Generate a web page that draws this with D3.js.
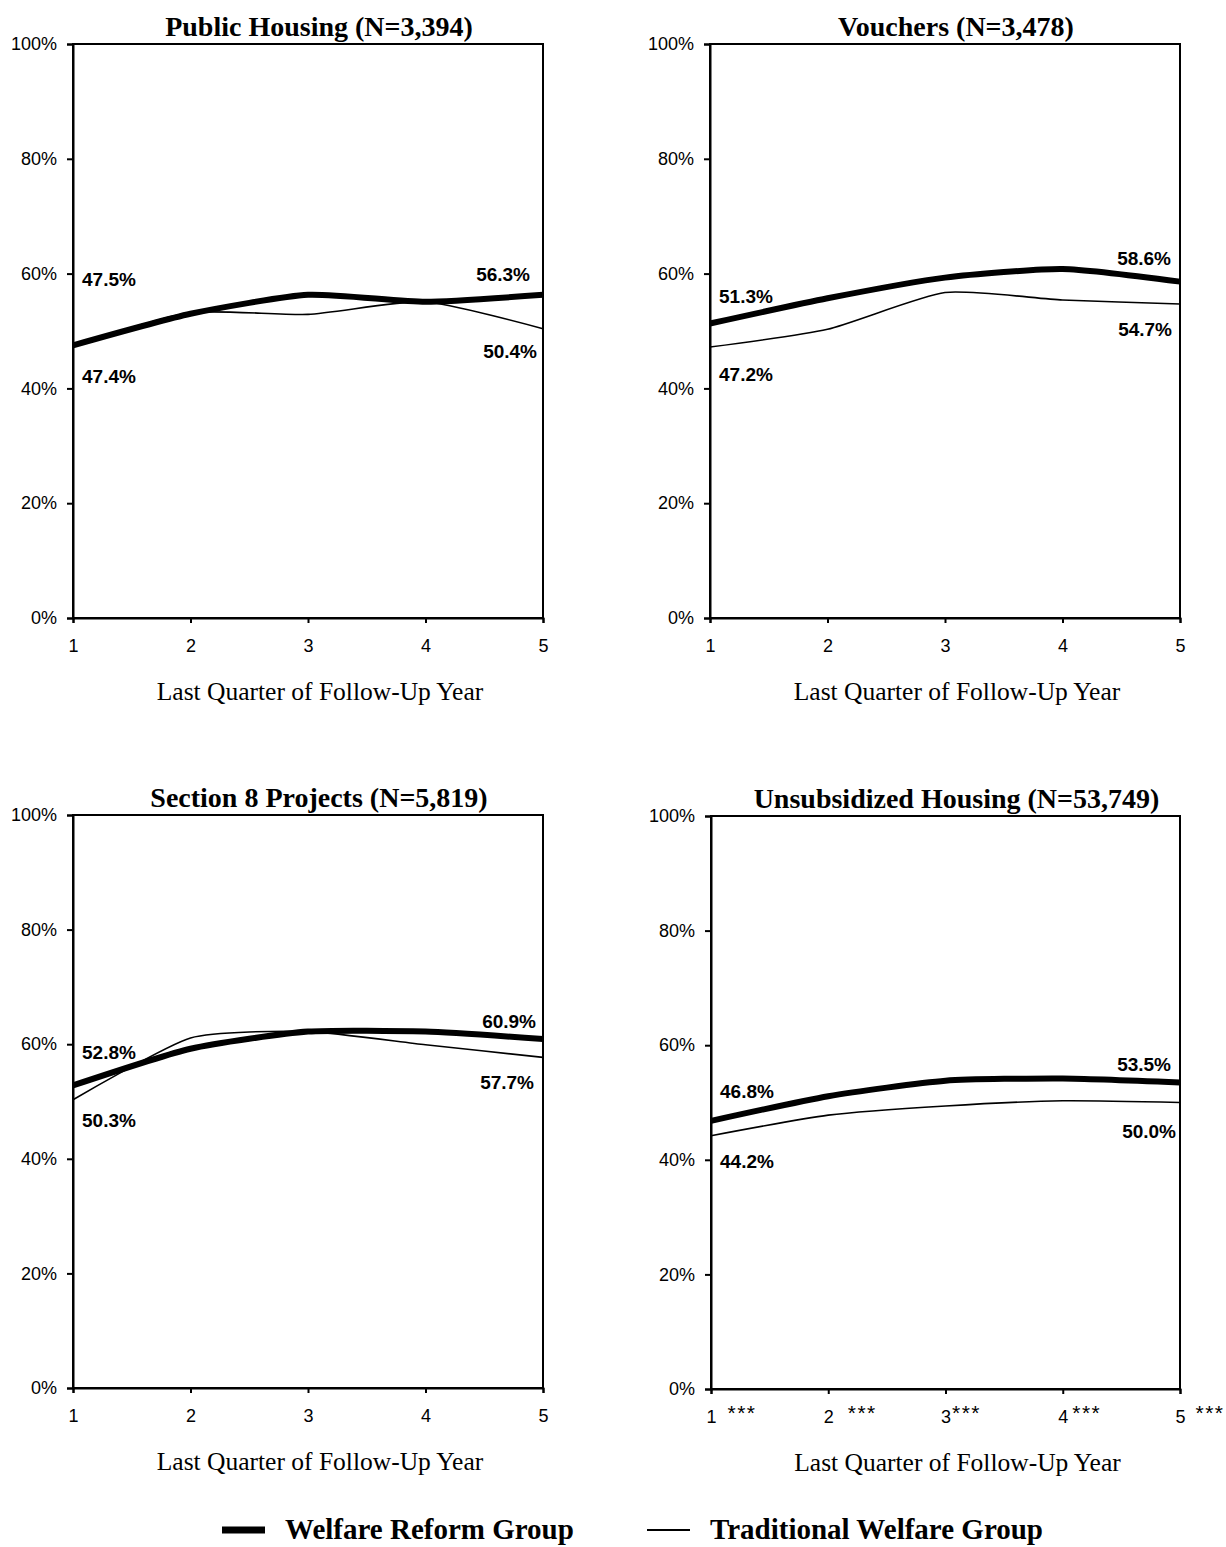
<!DOCTYPE html>
<html>
<head>
<meta charset="utf-8">
<script src="https://cdn.jsdelivr.net/npm/d3@7"></script>
<style>
  html, body { margin: 0; padding: 0; background: #fff; }
  svg { display: block; }
</style>
</head>
<body>
<svg id="chart" width="1226" height="1547"></svg>
<script>
// ---------------- DATA ----------------
const years = [1, 2, 3, 4, 5];
const yTicks = [0, 20, 40, 60, 80, 100];
const xTickLabels = ["1", "2", "3", "4", "5"];
const unsubSignificance = ["***", "***", "***", "***", "***"];

const panelTitles = [
  "Public Housing (N=3,394)",
  "Vouchers (N=3,478)",
  "Section 8 Projects (N=5,819)",
  "Unsubsidized Housing (N=53,749)"
];
const xAxisTitle = "Last Quarter of Follow-Up Year";
const seriesNames = ["Welfare Reform Group", "Traditional Welfare Group"];

const reformPublic   = [47.5, 53.0, 56.3, 55.1, 56.3];
const tradPublic     = [47.4, 53.2, 52.9, 55.1, 50.4];
const reformVouchers = [51.3, 55.7, 59.3, 60.8, 58.6];
const tradVouchers   = [47.2, 50.3, 56.7, 55.4, 54.7];
const reformSection8 = [52.8, 59.2, 62.2, 62.2, 60.9];
const tradSection8   = [50.3, 61.1, 62.2, 59.9, 57.7];
const reformUnsub    = [46.8, 51.1, 53.8, 54.2, 53.5];
const tradUnsub      = [44.2, 47.8, 49.4, 50.3, 50.0];

// ---------------- LAYOUT ----------------
const panels = [
  { title: panelTitles[0], reform: reformPublic,   trad: tradPublic,   x0: 73,  x1: 543,  y0: 44,  y1: 618,
    lab: { sR: -66, sT: 30, eR: -21, eT: 22, eRdx: -13, eTdx: -6 } },
  { title: panelTitles[1], reform: reformVouchers, trad: tradVouchers, x0: 710, x1: 1180, y0: 44,  y1: 618,
    lab: { sR: -28, sT: 27, eR: -24, eT: 25, eRdx: -9, eTdx: -8 } },
  { title: panelTitles[2], reform: reformSection8, trad: tradSection8, x0: 73,  x1: 543,  y0: 815, y1: 1388,
    lab: { sR: -33, sT: 20, eR: -18, eT: 25, eRdx: -7, eTdx: -9 } },
  { title: panelTitles[3], reform: reformUnsub,    trad: tradUnsub,    x0: 711, x1: 1180, y0: 816, y1: 1389,
    lab: { sR: -30, sT: 25, eR: -18, eT: 28, eRdx: -9, eTdx: -4 }, sig: unsubSignificance, sigGap: [11, 14, 1, 4, 10] }
];

const svg = d3.select("#chart");
const sansFont = "'Liberation Sans', Arial, sans-serif";
const serifFont = "'Liberation Serif', 'Times New Roman', serif";
const fmt = v => v.toFixed(1) + "%";

panels.forEach(p => {
  const x = d3.scaleLinear().domain([1, 5]).range([p.x0, p.x1]);
  const y = d3.scaleLinear().domain([0, 100]).range([p.y1, p.y0]);
  const g = svg.append("g");

  // frame
  g.append("rect")
    .attr("x", p.x0).attr("y", p.y0)
    .attr("width", p.x1 - p.x0).attr("height", p.y1 - p.y0)
    .attr("fill", "none").attr("stroke", "#000").attr("stroke-width", 2);

  // y axis
  const yAxis = d3.axisLeft(y).tickValues(yTicks).tickSize(6).tickPadding(10)
    .tickFormat(d => d + "%");
  const ya = g.append("g").attr("transform", `translate(${p.x0},0)`).call(yAxis);
  ya.select(".domain").attr("stroke", "#000").attr("stroke-width", 2);
  ya.selectAll(".tick line").attr("stroke", "#000").attr("stroke-width", 2);
  ya.selectAll(".tick text").attr("font-family", sansFont).attr("font-size", 18).attr("fill", "#000");

  // x axis
  const xAxis = d3.axisBottom(x).tickValues(years).tickSize(5).tickPadding(16)
    .tickFormat((d, i) => xTickLabels[i]);
  const xa = g.append("g").attr("transform", `translate(0,${p.y1})`).call(xAxis);
  xa.select(".domain").attr("stroke", "#000").attr("stroke-width", 2);
  xa.selectAll(".tick line").attr("stroke", "#000").attr("stroke-width", 2);
  xa.selectAll(".tick text").attr("font-family", sansFont).attr("font-size", 18).attr("fill", "#000");

  if (p.sig) {
    xa.selectAll(".tick").each(function (d, i) {
      d3.select(this).append("text")
        .attr("x", 5 + p.sigGap[i])
        .attr("y", 31)
        .attr("text-anchor", "start")
        .attr("font-family", sansFont).attr("font-size", 21)
        .attr("letter-spacing", 1.5)
        .attr("fill", "#000")
        .text(p.sig[i]);
    });
  }

  // title
  g.append("text")
    .attr("x", (p.x0 + p.x1) / 2 + 11).attr("y", p.y0 - 8)
    .attr("text-anchor", "middle")
    .attr("font-family", serifFont).attr("font-weight", "bold").attr("font-size", 28)
    .text(p.title);

  // x axis title
  g.append("text")
    .attr("x", (p.x0 + p.x1) / 2 + 12).attr("y", p.y1 + 82)
    .attr("text-anchor", "middle")
    .attr("font-family", serifFont).attr("font-size", 25.5)
    .text(xAxisTitle);

  // lines
  const line = d3.line().x((d, i) => x(years[i])).y(d => y(d)).curve(d3.curveCardinal.tension(0.4));
  g.append("path").datum(p.trad).attr("d", line)
    .attr("fill", "none").attr("stroke", "#000").attr("stroke-width", 1.6);
  g.append("path").datum(p.reform).attr("d", line)
    .attr("fill", "none").attr("stroke", "#000").attr("stroke-width", 6)
    .attr("stroke-linejoin", "round");

  // data labels
  const L = p.lab;
  const lab = (xx, yy, anchor, txt) => g.append("text")
    .attr("x", xx).attr("y", yy + 7)
    .attr("text-anchor", anchor)
    .attr("font-family", sansFont).attr("font-weight", "bold").attr("font-size", 19)
    .text(txt);
  const n = years.length - 1;
  lab(x(1) + 9, y(p.reform[0]) + L.sR, "start", fmt(p.reform[0]));
  lab(x(1) + 9, y(p.trad[0]) + L.sT, "start", fmt(p.trad[0]));
  lab(x(5) + L.eRdx, y(p.reform[n]) + L.eR, "end", fmt(p.reform[n]));
  lab(x(5) + L.eTdx, y(p.trad[n]) + L.eT, "end", fmt(p.trad[n]));
});

// legend
const leg = svg.append("g");
leg.append("line").attr("x1", 222).attr("x2", 265).attr("y1", 1530).attr("y2", 1530)
  .attr("stroke", "#000").attr("stroke-width", 7);
leg.append("text").attr("x", 285).attr("y", 1539)
  .attr("font-family", serifFont).attr("font-weight", "bold").attr("font-size", 29)
  .text(seriesNames[0]);
leg.append("line").attr("x1", 647).attr("x2", 690).attr("y1", 1530).attr("y2", 1530)
  .attr("stroke", "#000").attr("stroke-width", 2);
leg.append("text").attr("x", 710).attr("y", 1539)
  .attr("font-family", serifFont).attr("font-weight", "bold").attr("font-size", 29)
  .text(seriesNames[1]);
</script>
</body>
</html>
